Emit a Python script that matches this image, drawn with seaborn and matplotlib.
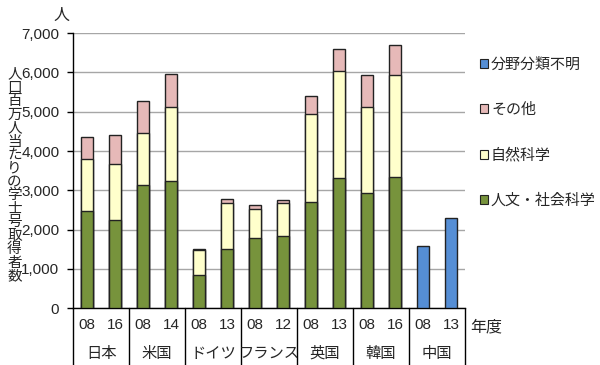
import pandas as pd
import numpy as np
import matplotlib
matplotlib.use('Agg')
import matplotlib.pyplot as plt
import matplotlib.transforms as mtransforms
from matplotlib.patches import Patch
import seaborn as sns

countries = ['日本', '米国', 'ドイツ', 'フランス', '英国', '韓国', '中国']
years = ['08', '16', '08', '14', '08', '13', '08', '12', '08', '13', '08', '16', '08', '13']
humanities = [2460, 2250, 3140, 3240, 850, 1510, 1780, 1840, 2700, 3300, 2930, 3350, 0, 0]
natural = [1330, 1420, 1330, 1890, 620, 1160, 740, 830, 2240, 2740, 2200, 2590, 0, 0]
other = [570, 750, 810, 830, 40, 120, 110, 90, 470, 550, 800, 760, 0, 0]
unknown = [0, 0, 0, 0, 0, 0, 0, 0, 0, 0, 0, 0, 1570, 2290]

series_names = ['分野分類不明', 'その他', '自然科学', '人文・社会科学']
colors = {'分野分類不明': '#558ED5', 'その他': '#E6B9B8',
          '自然科学': '#FFFFCC', '人文・社会科学': '#77933C'}

sns.set_theme(style='white')
plt.rcParams['font.family'] = ['Liberation Sans', 'Noto Sans CJK JP', 'DejaVu Sans']
jp = ['Noto Sans CJK JP', 'DejaVu Sans']

keys = [f'{i}_{y}' for i, y in enumerate(years)]
df = pd.DataFrame({'key': keys, 'hum': humanities, 'nat': natural,
                   'oth': other, 'unk': unknown})
df['c1'] = df['hum']
df['c2'] = df['c1'] + df['nat']
df['c3'] = df['c2'] + df['oth']
df['c4'] = df['c3'] + df['unk']

fig = plt.figure(figsize=(6, 3.65), dpi=100)
ax = fig.add_axes([0.122, 0.156, 0.653, 0.753])

# stacked look: draw cumulative totals from the top layer down
layers = [('c4', 'unk', '分野分類不明'), ('c3', 'oth', 'その他'),
          ('c2', 'nat', '自然科学'), ('c1', 'hum', '人文・社会科学')]
for col, part, name in layers:
    sub = df[df[part] > 0]
    sns.barplot(data=sub, x='key', y=col, order=keys, color=colors[name],
                saturation=1, width=0.43, edgecolor='#222222', linewidth=1,
                ax=ax, zorder=3)

ax.set_ylim(0, 7000)
ax.set_xlim(-0.5, len(keys) - 0.5)
ax.set_yticks(range(0, 7001, 1000))
ax.set_yticklabels([f'{v:,}' for v in range(0, 7001, 1000)], fontsize=11)
ax.yaxis.grid(True, color='#A6A6A6', linewidth=1, zorder=0)
ax.set_axisbelow(True)
ax.set_xlabel('')
ax.set_ylabel('')
ax.set_xticks(range(len(keys)))
ax.set_xticklabels(years, fontsize=11)
ax.tick_params(axis='x', length=0, pad=7)
ax.tick_params(axis='y', length=4, width=1, color='black', direction='out', pad=6, left=True)
for s in ['top', 'right']:
    ax.spines[s].set_visible(False)
for s in ['left', 'bottom']:
    ax.spines[s].set_color('black')
    ax.spines[s].set_linewidth(1)

trans = mtransforms.blended_transform_factory(ax.transData, ax.transAxes)
for b in np.arange(-0.5, len(keys), 2):
    ax.plot([b, b], [0, -0.215], color='black', linewidth=1, transform=trans, clip_on=False)
for i, c in enumerate(countries):
    ax.text(2 * i + 0.5, -0.165, c, transform=trans, ha='center', va='center',
            fontsize=11, family=jp)

fig.text(0.81, 0.104, '年度', ha='center', va='center', fontsize=11.5, family=jp)
fig.text(0.103, 0.958, '人', ha='center', va='center', fontsize=11.5, family=jp)
fig.text(0.024, 0.52, '\n'.join('人口百万人当たりの学士号取得者数'), ha='center', va='center',
         fontsize=10.5, linespacing=0.95, family=jp)

handles = [Patch(facecolor=colors[n], edgecolor='#222222', linewidth=0.8) for n in series_names]
leg = fig.legend(handles, series_names, loc='upper left', bbox_to_anchor=(0.777, 0.879),
                 frameon=False, prop={'family': jp, 'size': 10.8},
                 handlelength=0.55, handleheight=0.55, handletextpad=0.2, labelspacing=2.05)

fig.savefig('out.png', dpi=100)
